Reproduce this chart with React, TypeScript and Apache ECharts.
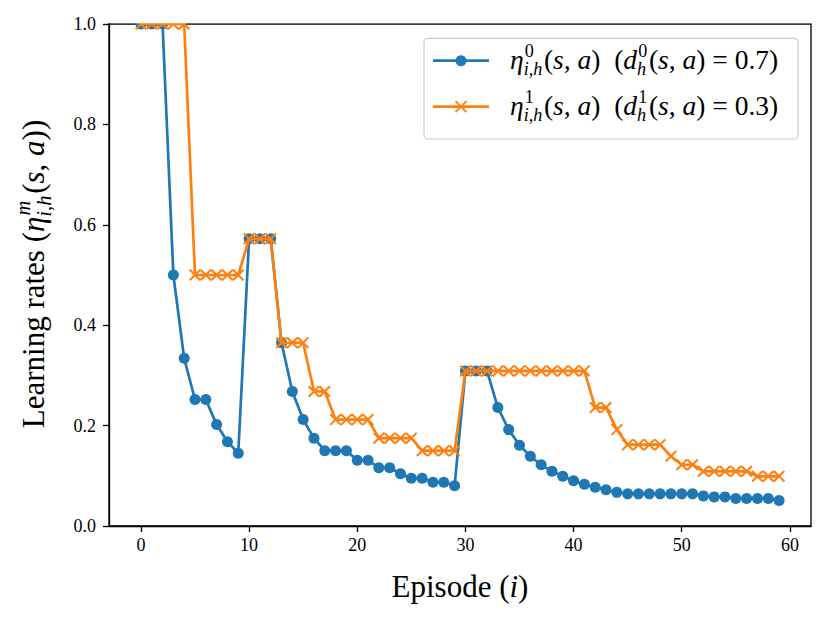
import React, { useEffect, useRef } from "react";
import * as echarts from "echarts";

const episodes = [
  0, 1, 2, 3, 4, 5, 6, 7, 8, 9, 10, 11, 12, 13, 14, 15, 16, 17, 18, 19,
  20, 21, 22, 23, 24, 25, 26, 27, 28, 29, 30, 31, 32, 33, 34, 35, 36, 37, 38, 39,
  40, 41, 42, 43, 44, 45, 46, 47, 48, 49, 50, 51, 52, 53, 54, 55, 56, 57, 58, 59,
];

const eta0 = [
  1.0, 1.0, 1.0, 0.5, 0.334, 0.252, 0.252, 0.202, 0.168, 0.145,
  0.572, 0.572, 0.572, 0.365, 0.268, 0.212, 0.175, 0.15, 0.15, 0.15,
  0.131, 0.131, 0.116, 0.116, 0.104, 0.095, 0.095, 0.087, 0.087, 0.08,
  0.309, 0.309, 0.309, 0.236, 0.192, 0.161, 0.139, 0.122, 0.109, 0.099,
  0.09, 0.083, 0.077, 0.072, 0.067, 0.064, 0.064, 0.064, 0.064, 0.064,
  0.064, 0.064, 0.06, 0.058, 0.058, 0.055, 0.055, 0.055, 0.055, 0.051,
];

const eta1 = [
  1.0, 1.0, 1.0, 1.0, 1.0, 0.5, 0.5, 0.5, 0.5, 0.5,
  0.572, 0.572, 0.572, 0.365, 0.365, 0.365, 0.268, 0.268, 0.212, 0.212,
  0.212, 0.212, 0.175, 0.175, 0.175, 0.175, 0.15, 0.15, 0.15, 0.15,
  0.309, 0.309, 0.309, 0.309, 0.309, 0.309, 0.309, 0.309, 0.309, 0.309,
  0.309, 0.309, 0.236, 0.236, 0.192, 0.162, 0.162, 0.162, 0.162, 0.139,
  0.122, 0.122, 0.109, 0.109, 0.109, 0.109, 0.109, 0.099, 0.099, 0.099,
];

const xTicks = [0, 10, 20, 30, 40, 50, 60];
const yTicks = [0, 0.2, 0.4, 0.6, 0.8, 1.0];

const BLUE = "#1f77b4";
const ORANGE = "#ff7f0e";
const FAM = '"Liberation Serif", "Times New Roman", serif';
const XMARK = "path://M0,1.2L1.2,0L10,8.8L8.8,10ZM8.8,0L10,1.2L1.2,10L0,8.8Z";

type Tok =
  | { t: string; it?: boolean }
  | { sup: string; sub: string; supIt?: boolean; subIt?: boolean };

let ctx: CanvasRenderingContext2D | null = null;
function measure(text: string, size: number, italic: boolean): number {
  if (!ctx) ctx = document.createElement("canvas").getContext("2d");
  if (!ctx) return text.length * size * 0.5;
  ctx.font = `${italic ? "italic " : ""}${size}px ${FAM}`;
  return ctx.measureText(text).width;
}

function buildMath(tokens: Tok[], F: number, color: string, center: boolean, z: number) {
  let x = 0;
  const items: { text: string; x: number; y: number; size: number; it: boolean }[] = [];
  for (const tok of tokens) {
    if ("t" in tok) {
      const it = !!tok.it;
      items.push({ text: tok.t, x, y: 0, size: F, it });
      x += measure(tok.t, F, it);
    } else {
      const s = 0.66 * F;
      const supIt = !!tok.supIt;
      const subIt = !!tok.subIt;
      items.push({ text: tok.sup, x: x + 0.04 * F, y: -0.33 * F, size: s, it: supIt });
      items.push({ text: tok.sub, x, y: 0.34 * F, size: s, it: subIt });
      x += Math.max(measure(tok.sup, s, supIt) + 0.04 * F, measure(tok.sub, s, subIt)) + 0.06 * F;
    }
  }
  const off = center ? -x / 2 : 0;
  const children = items.map((d) => ({
    type: "text",
    x: d.x + off,
    y: d.y,
    z,
    silent: true,
    style: {
      text: d.text,
      fontSize: d.size,
      fontFamily: FAM,
      fontStyle: d.it ? "italic" : "normal",
      fill: color,
      align: "left",
      verticalAlign: "middle",
    },
  }));
  return { children, width: x };
}

export default function App() {
  const ref = useRef<HTMLDivElement>(null);

  useEffect(() => {
    document.body.style.margin = "0";
    if (!ref.current) return;
    const chart = echarts.init(ref.current, null, { renderer: "svg" });

    const yLabel = buildMath(
      [
        { t: "Learning rates (" },
        { t: "η", it: true },
        { sup: "m", sub: "i,h", supIt: true, subIt: true },
        { t: "(" },
        { t: "s", it: true },
        { t: ", " },
        { t: "a", it: true },
        { t: "))" },
      ],
      31,
      "#000",
      true,
      60
    );

    const legTokens = (m: string, d: string): Tok[] => [
      { t: "η", it: true },
      { sup: m, sub: "i,h", subIt: true },
      { t: "(" },
      { t: "s", it: true },
      { t: ", " },
      { t: "a", it: true },
      { t: ")  (" },
      { t: "d", it: true },
      { sup: m, sub: "h", subIt: true },
      { t: "(" },
      { t: "s", it: true },
      { t: ", " },
      { t: "a", it: true },
      { t: ") = " + d + ")" },
    ];
    const leg1 = buildMath(legTokens("0", "0.7"), 27.5, "#000", false, 80);
    const leg2 = buildMath(legTokens("1", "0.3"), 27.5, "#000", false, 80);

    const tickStyle = { color: "#000", width: 1.3 };

    const option: any = {
      animation: false,
      backgroundColor: "#fff",
      grid: {
        left: 109,
        top: 24,
        width: 702,
        height: 502,
        show: true,
        borderColor: "#000",
        borderWidth: 1.3,
        backgroundColor: "transparent",
      },
      xAxis: {
        type: "value",
        min: -2.95,
        max: 61.95,
        name: "Episode ({it|i})",
        nameLocation: "middle",
        nameGap: 60,
        nameTextStyle: {
          fontSize: 31,
          fontFamily: FAM,
          color: "#000",
          verticalAlign: "middle",
          rich: {
            it: { fontSize: 31, fontFamily: FAM, fontStyle: "italic", color: "#000" },
          },
        },
        axisLine: { show: true, onZero: false, lineStyle: tickStyle },
        axisTick: { show: true, length: 6, lineStyle: tickStyle, customValues: xTicks },
        axisLabel: {
          customValues: xTicks,
          fontSize: 18,
          fontFamily: FAM,
          color: "#000",
          margin: 10,
        },
        splitLine: { show: false },
      },
      yAxis: {
        type: "value",
        min: 0,
        max: 1,
        interval: 0.2,
        axisLine: { show: true, onZero: false, lineStyle: tickStyle },
        axisTick: { show: true, length: 6, lineStyle: tickStyle, customValues: yTicks },
        axisLabel: {
          customValues: yTicks,
          fontSize: 18,
          fontFamily: FAM,
          color: "#000",
          margin: 13,
          formatter: (v: number) => v.toFixed(1),
        },
        splitLine: { show: false },
      },
      series: [
        {
          name: "eta0",
          type: "line",
          data: episodes.map((e, i) => [e, eta0[i]]),
          symbol: "circle",
          symbolSize: 11,
          showAllSymbol: true,
          lineStyle: { color: BLUE, width: 2.7 },
          itemStyle: { color: BLUE },
          emphasis: { disabled: true },
          z: 2,
        },
        {
          name: "eta1",
          type: "line",
          data: episodes.map((e, i) => [e, eta1[i]]),
          symbol: XMARK,
          symbolSize: 12,
          showAllSymbol: true,
          lineStyle: { color: ORANGE, width: 2.7 },
          itemStyle: { color: ORANGE },
          emphasis: { disabled: true },
          z: 3,
        },
      ],
      graphic: [
        {
          type: "rect",
          silent: true,
          z: 50,
          shape: { x: 110, y: 0, width: 720, height: 23.3 },
          style: { fill: "#fff" },
        },
        {
          type: "group",
          x: 33,
          y: 274,
          rotation: Math.PI / 2,
          z: 60,
          children: yLabel.children,
        },
        {
          type: "rect",
          z: 70,
          silent: true,
          shape: { x: 424, y: 38.3, width: 374, height: 100.7, r: 4 },
          style: { fill: "rgba(255,255,255,0.8)", stroke: "#cccccc", lineWidth: 1.2 },
        },
        {
          type: "line",
          z: 71,
          silent: true,
          shape: { x1: 433, y1: 60.7, x2: 489, y2: 60.7 },
          style: { stroke: BLUE, lineWidth: 2.7 },
        },
        {
          type: "circle",
          z: 72,
          silent: true,
          shape: { cx: 461, cy: 60.7, r: 5.5 },
          style: { fill: BLUE },
        },
        {
          type: "line",
          z: 71,
          silent: true,
          shape: { x1: 433, y1: 106.7, x2: 489, y2: 106.7 },
          style: { stroke: ORANGE, lineWidth: 2.7 },
        },
        {
          type: "line",
          z: 72,
          silent: true,
          shape: { x1: 455.5, y1: 101.2, x2: 466.5, y2: 112.2 },
          style: { stroke: ORANGE, lineWidth: 1.9 },
        },
        {
          type: "line",
          z: 72,
          silent: true,
          shape: { x1: 466.5, y1: 101.2, x2: 455.5, y2: 112.2 },
          style: { stroke: ORANGE, lineWidth: 1.9 },
        },
        {
          type: "group",
          x: 510,
          y: 59.7,
          z: 80,
          children: leg1.children,
        },
        {
          type: "group",
          x: 510,
          y: 105.7,
          z: 80,
          children: leg2.children,
        },
      ],
    };

    chart.setOption(option);
    return () => chart.dispose();
  }, []);

  return (
    <div
      ref={ref}
      style={{ position: "absolute", left: 0, top: 0, width: 830, height: 623, background: "#fff" }}
    />
  );
}
